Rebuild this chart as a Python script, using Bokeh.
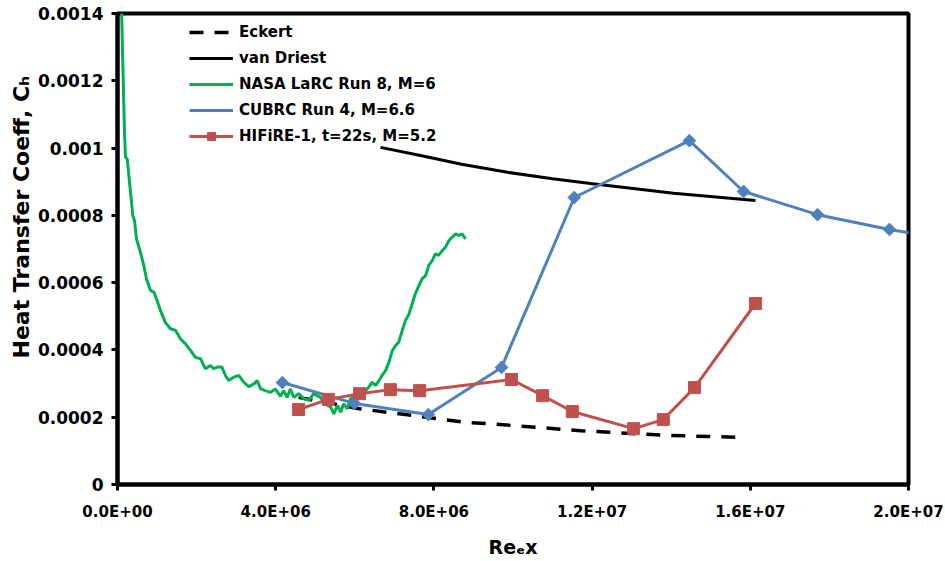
import math
from bokeh.plotting import figure
from bokeh.models import FixedTicker, Range1d, Legend, LegendItem, Title
from bokeh.embed import file_html
from bokeh.resources import INLINE

# ---------------- data ----------------
eckert_x = [4.58e6, 6.07e6, 8.85e6, 9.35e6, 11.71e6, 13.9e6, 15.88e6]
eckert_y = [0.000259, 0.000226, 0.000184, 0.000181, 0.000160, 0.000146, 0.000140]

vandriest_x = [6.65e6, 7.66e6, 8.7e6, 9.86e6, 11.0e6, 11.96e6, 14.06e6, 16.13e6]
vandriest_y = [0.001002, 0.000978, 0.000952, 0.000928, 0.000909, 0.000895, 0.000866, 0.000844]

nasa_x = [0.085e6, 0.14e6, 0.177e6, 0.202e6, 0.245e6, 0.329e6, 0.387e6, 0.43e6, 0.48e6,
          0.58e6, 0.665e6, 0.733e6, 0.834e6, 0.92e6, 1.0e6, 1.087e6, 1.21e6, 1.34e6,
          1.47e6, 1.59e6, 1.72e6, 1.85e6, 1.97e6, 2.1e6, 2.22e6, 2.35e6, 2.43e6, 2.52e6,
          2.64e6, 2.73e6, 2.81e6, 2.94e6, 3.07e6, 3.19e6, 3.32e6, 3.45e6, 3.53e6, 3.62e6,
          3.74e6, 3.87e6, 3.99e6, 4.12e6, 4.2e6, 4.29e6, 4.37e6, 4.46e6, 4.58e6, 4.71e6,
          4.84e6, 4.96e6, 5.13e6, 5.26e6, 5.39e6, 5.47e6, 5.56e6, 5.64e6, 5.72e6, 5.81e6,
          5.89e6, 6.02e6, 6.14e6, 6.27e6, 6.35e6, 6.44e6, 6.52e6, 6.61e6, 6.69e6, 6.78e6,
          6.86e6, 6.95e6, 7.03e6, 7.11e6, 7.2e6, 7.28e6, 7.37e6, 7.45e6, 7.53e6, 7.62e6,
          7.7e6, 7.79e6, 7.87e6, 7.96e6, 8.04e6, 8.12e6, 8.21e6, 8.29e6, 8.38e6, 8.46e6,
          8.55e6, 8.63e6, 8.71e6, 8.8e6]
nasa_y = [0.00150, 0.001225, 0.001047, 0.000973, 0.000968, 0.000869, 0.000799, 0.000785, 0.00073,
          0.00069, 0.000651, 0.000611, 0.000577, 0.000572, 0.000547, 0.000517, 0.000482, 0.000463,
          0.000458, 0.000433, 0.000418, 0.000398, 0.000378, 0.000374, 0.000344, 0.000354, 0.000344, 0.000349,
          0.000349, 0.000324, 0.000309, 0.000319, 0.000324, 0.000304, 0.000291, 0.000299, 0.000309, 0.000284,
          0.000279, 0.000274, 0.000284, 0.000262, 0.000279, 0.000259, 0.000284, 0.000259, 0.00027, 0.000255,
          0.00025, 0.00027, 0.000259, 0.00024, 0.00023, 0.00021, 0.000235, 0.000215, 0.00024, 0.000225,
          0.000255, 0.000265, 0.00027, 0.000279, 0.000289, 0.000304, 0.000294, 0.000309, 0.000324, 0.000339,
          0.000363, 0.000398, 0.000413, 0.000423, 0.000458, 0.000487, 0.000507, 0.000537, 0.000567, 0.000591,
          0.000611, 0.000621, 0.000651, 0.000666, 0.000686, 0.000681, 0.000695, 0.000705, 0.000725, 0.000735,
          0.000745, 0.00074, 0.000745, 0.00073]

cubrc_x = [4.17e6, 5.99e6, 7.86e6, 9.71e6, 11.55e6, 14.46e6, 15.83e6, 17.7e6, 19.52e6, 21.5e6]
cubrc_y = [0.000303, 0.000241, 0.000208, 0.000348, 0.000853, 0.001022, 0.000871, 0.000802, 0.000758, 0.00072]

hifire_x = [4.58e6, 5.33e6, 6.12e6, 6.9e6, 7.64e6, 9.96e6, 10.75e6, 11.5e6, 13.05e6, 13.8e6, 14.59e6, 16.13e6]
hifire_y = [0.000223, 0.000253, 0.00027, 0.000282, 0.000279, 0.000312, 0.000264, 0.000217, 0.000166, 0.000193, 0.000288, 0.000538]

x_ticks = [0, 4e6, 8e6, 1.2e7, 1.6e7, 2.0e7]
x_tick_labels = ["0.0E+00", "4.0E+06", "8.0E+06", "1.2E+07", "1.6E+07", "2.0E+07"]
y_ticks = [0, 0.0002, 0.0004, 0.0006, 0.0008, 0.001, 0.0012, 0.0014]
y_tick_labels = ["0", "0.0002", "0.0004", "0.0006", "0.0008", "0.001", "0.0012", "0.0014"]

series_names = ["Eckert", "van Driest", "NASA LaRC Run 8, M=6", "CUBRC Run 4, M=6.6", "HIFiRE-1, t=22s, M=5.2"]
x_title = "Reₑx"
y_title = "Heat Transfer Coeff, Cₕ"

FONT = "DejaVu Sans"
GREEN = "#00B050"
BLUE = "#4F81BD"
RED = "#C0504D"

p = figure(width=945, height=561, output_backend="svg", toolbar_location=None,
           x_range=Range1d(0, 2.0e7), y_range=Range1d(0, 0.0014),
           min_border_left=117, min_border_right=37, min_border_top=13, min_border_bottom=77)
p.background_fill_color = "white"
p.border_fill_color = "white"
p.grid.visible = False
p.outline_line_color = "black"
p.outline_line_width = 4

for ax in (p.xaxis[0], p.yaxis[0]):
    ax.axis_line_color = "black"
    ax.axis_line_width = 4
    ax.major_tick_line_color = "black"
    ax.major_tick_line_width = 3
    ax.major_tick_in = 0
    ax.major_tick_out = 6
    ax.minor_tick_line_color = None
    ax.major_label_text_font = FONT
    ax.major_label_text_font_style = "bold"
    ax.major_label_text_color = "black"
    ax.axis_label_text_font = FONT
    ax.axis_label_text_font_style = "bold"
    ax.axis_label_text_color = "black"

p.xaxis[0].ticker = FixedTicker(ticks=x_ticks)
p.xaxis[0].major_label_overrides = {t: l for t, l in zip(x_ticks, x_tick_labels)}
p.xaxis[0].major_label_standoff = 12
p.xaxis[0].major_label_text_font_size = "15px"
p.xaxis[0].axis_label = x_title
p.xaxis[0].axis_label_text_font_size = "19px"
p.xaxis[0].axis_label_standoff = 12

p.yaxis[0].ticker = FixedTicker(ticks=y_ticks)
p.yaxis[0].major_label_overrides = {t: l for t, l in zip(y_ticks, y_tick_labels)}
p.yaxis[0].major_label_standoff = 8
p.yaxis[0].major_label_text_font_size = "17px"

ytitle = Title(text=y_title, align="left", offset=126, vertical_align="middle",
               text_font=FONT, text_font_style="bold", text_font_size="22px",
               text_color="black", standoff=0)
p.add_layout(ytitle, "left")

r_eck = p.line(eckert_x, eckert_y, line_color="black", line_width=3.5, line_dash="14 11")
r_vd = p.line(vandriest_x, vandriest_y, line_color="black", line_width=3)
r_nasa = p.line(nasa_x, nasa_y, line_color=GREEN, line_width=3)
r_cl = p.line(cubrc_x, cubrc_y, line_color=BLUE, line_width=3)
p.scatter(cubrc_x, cubrc_y, marker="square", size=9, angle=math.pi / 4,
          fill_color=BLUE, line_color=BLUE)
r_cm_leg = p.scatter(x=[], y=[], marker="diamond", size=16, fill_color=BLUE, line_color=BLUE)
r_hl = p.line(hifire_x, hifire_y, line_color=RED, line_width=3)
r_hm = p.scatter(hifire_x, hifire_y, marker="square", size=12, fill_color=RED, line_color=RED)

legend = Legend(items=[
    LegendItem(label=series_names[0], renderers=[r_eck]),
    LegendItem(label=series_names[1], renderers=[r_vd]),
    LegendItem(label=series_names[2], renderers=[r_nasa]),
    LegendItem(label=series_names[3], renderers=[r_cl, r_cm_leg]),
    LegendItem(label=series_names[4], renderers=[r_hl, r_hm]),
], location=(72, 338))
legend.background_fill_alpha = 0
legend.border_line_alpha = 0
legend.padding = 0
legend.margin = 0
legend.spacing = 6
legend.glyph_width = 44
legend.glyph_height = 20
legend.label_height = 20
legend.label_standoff = 6
legend.label_text_font = FONT
legend.label_text_font_style = "bold"
legend.label_text_font_size = "15px"
legend.label_text_color = "black"
p.add_layout(legend, "center")

open("out.html", "w").write(file_html(p, INLINE))
